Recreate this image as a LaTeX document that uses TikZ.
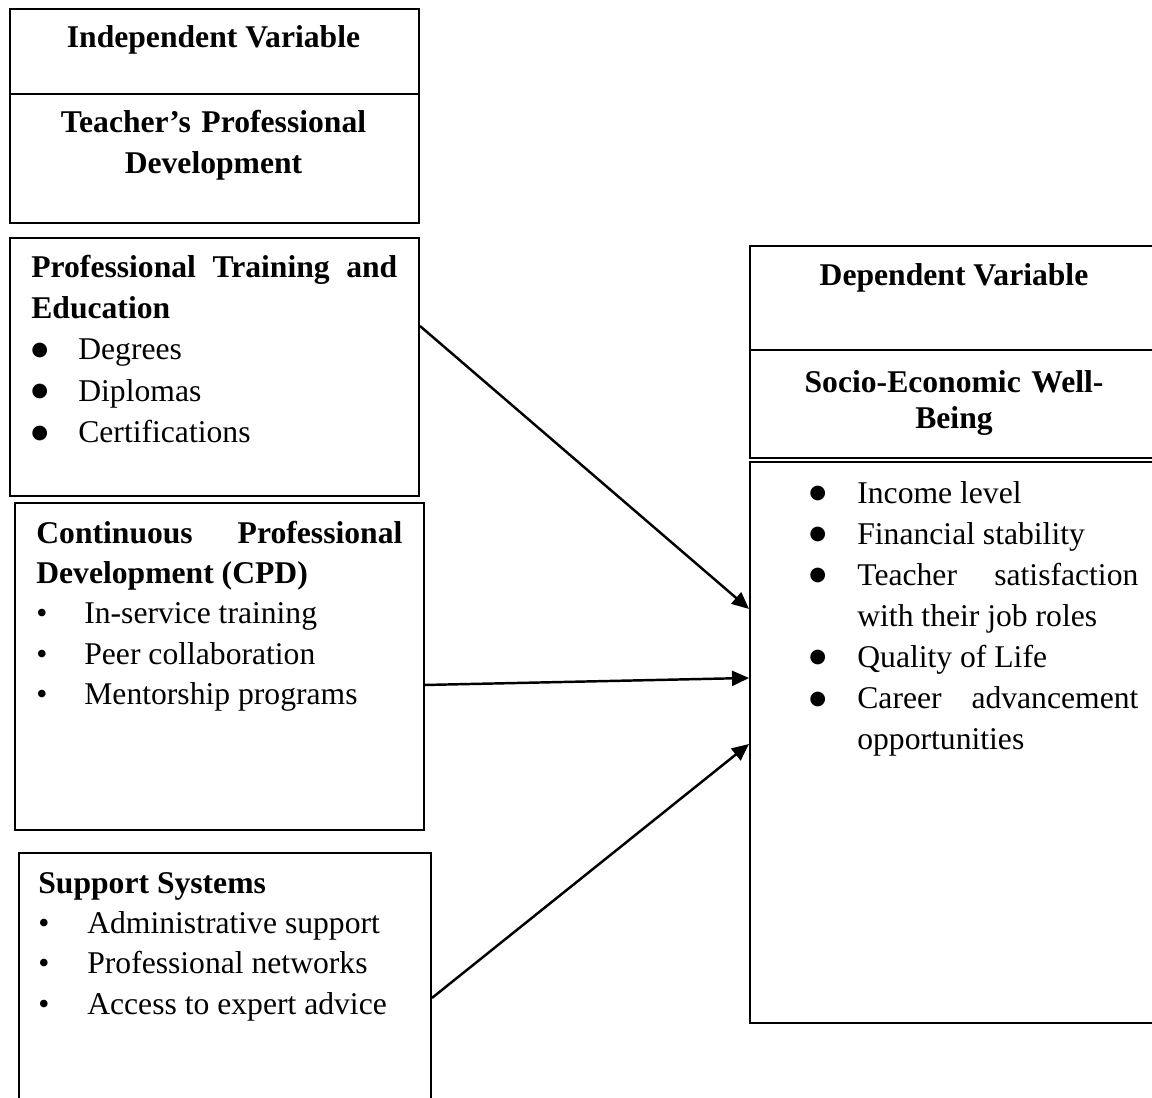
\documentclass[tikz,border=0pt]{standalone}
\usepackage{fontspec}
\setmainfont{Liberation Serif}
\newfontfamily\dotfont{DejaVu Sans}
\usetikzlibrary{arrows.meta, positioning}

% bullet line with hanging indent; optional arg is the bullet itself
\newcommand{\bitem}[3][\textbullet]{\hangindent=#2\hangafter=1\noindent\makebox[#2][l]{#1}#3\par}
\newcommand{\bigdot}{\raisebox{2.6pt}{\dotfont\fontsize{11pt}{12pt}\selectfont ●}}

\tikzset{
  panel/.style = {draw, rectangle, line width=1.1pt, anchor=north west, inner sep=0pt,
                  minimum width=81.8mm},
  hd/.style    = {font=\fontsize{18pt}{23pt}\selectfont\bfseries, inner sep=0pt,
                  anchor=base, align=center},
  items/.style = {font=\fontsize{18pt}{23pt}\selectfont, inner sep=0pt, anchor=base west,
                  text width=73.2mm, align=justify},
  link/.style  = {-{Triangle[length=3.4mm, width=3mm]}, line width=1.4pt},
}

\begin{document}
\begin{tikzpicture}[x=0.2mm, y=-0.2mm]
  \useasboundingbox (0,0) rectangle (1152,1097);
  \clip (0,0) rectangle (1152,1097);
  % independent side
  \node[panel, minimum height=17mm] (iv) at (9,8) {};
  \node[panel, minimum height=25.8mm] (tpd) at (9,93) {};
  \node[panel, minimum height=51.6mm] (pte) at (9,237) {};
  \node[panel, minimum height=65.4mm] (cpd) at (14,502) {};
  \node[panel, minimum width=82.4mm, minimum height=55.6mm] (sup) at (18,852) {};
  \node[hd] (iv-t) at (213.5,48) {Independent Variable};
  \node[hd, text width=73mm] (tpd-t) at (213.5,133) {Teacher's Professional\\Development};
  \node[items, font=\fontsize{18pt}{23.6pt}\selectfont] (pte-t) at (31,277) {%
    \textbf{Professional Training and Education}\par
    \bitem[\bigdot]{9.4mm}{Degrees}
    \bitem[\bigdot]{9.4mm}{Diplomas}
    \bitem[\bigdot]{9.4mm}{Certifications}};
  \node[items] (cpd-t) at (36,543) {%
    \textbf{Continuous Professional Development (CPD)}\par
    \bitem{9.6mm}{In-service training}
    \bitem{9.6mm}{Peer collaboration}
    \bitem{9.6mm}{Mentorship programs}};
  \node[items] (sup-t) at (38,893) {%
    \textbf{Support Systems}\par
    \bitem{9.8mm}{Administrative support}
    \bitem{9.8mm}{Professional networks}
    \bitem{9.8mm}{Access to expert advice}};
  % dependent side
  \node[panel, minimum width=82.2mm, minimum height=20.8mm] (dv) at (749,245) {};
  \node[panel, minimum width=82.2mm, minimum height=21.6mm] (sew) at (749,349) {};
  \node[panel, minimum width=82.2mm, minimum height=112.2mm] (outc) at (749,461) {};
  \node[hd] (dv-t) at (954,285) {Dependent Variable};
  \node[hd, text width=73mm, font=\fontsize{18pt}{20.5pt}\selectfont\bfseries]
    (sew-t) at (954,392) {Socio-Economic Well-\\Being};
  \node[items, text width=65.8mm, font=\fontsize{18pt}{23.4pt}\selectfont]
    (outc-t) at (809,503) {%
    \bitem[\bigdot]{9.6mm}{Income level}
    \bitem[\bigdot]{9.6mm}{Financial stability}
    \bitem[\bigdot]{9.6mm}{Teacher satisfaction with their job roles}
    \bitem[\bigdot]{9.6mm}{Quality of Life}
    \bitem[\bigdot]{9.6mm}{Career advancement opportunities}};
  % links into the outcome box
  \draw[link] ([yshift=8.2mm]pte.east) -- ([yshift=26.7mm]outc.west);
  \draw[link] ([yshift=-3.7mm]cpd.east) -- ([yshift=12.9mm]outc.west);
  \draw[link] ([yshift=-1.2mm]sup.east) -- ([yshift=-0.3mm]outc.west);
\end{tikzpicture}
\end{document}
